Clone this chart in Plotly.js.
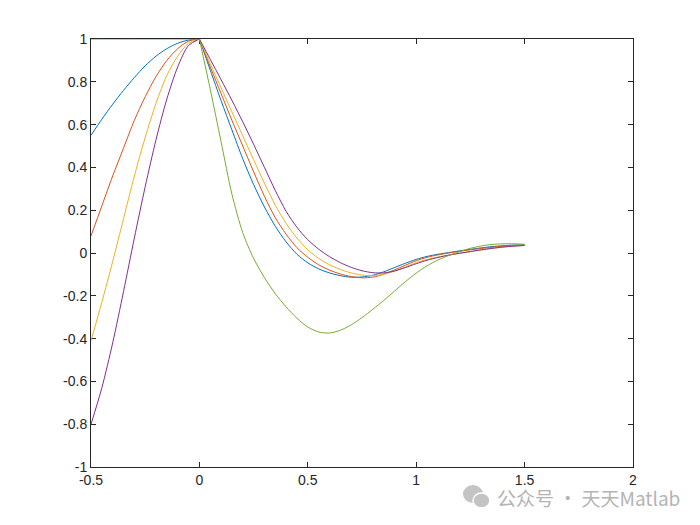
<!DOCTYPE html>
<html>
<head>
<meta charset="utf-8">
<script src="https://cdn.plot.ly/plotly-3.0.1.min.js"></script>
<style>html,body{margin:0;padding:0;background:#fff;}#chart{width:700px;height:525px;}</style>
</head>
<body>
<div id="chart"></div>
<script>
// sample positions (x)
const xs = [-0.5,-0.45,-0.4,-0.35,-0.3,-0.25,-0.2,-0.15,-0.1,-0.05,0,
  0.05,0.1,0.15,0.2,0.25,0.3,0.35,0.4,0.45,0.5,0.55,0.6,0.65,0.7,0.75,0.8,0.85,0.9,0.95,1.0,
  1.05,1.1,1.15,1.2,1.25,1.3,1.35,1.4,1.45,1.5];

// series values
const blueY = [0.55,0.625,0.695,0.76,0.82,0.875,0.92,0.955,0.98,0.995,1,
  0.855,0.712,0.575,0.44,0.32,0.215,0.125,0.052,-0.006,-0.046,-0.074,-0.093,-0.106,-0.113,-0.112,-0.104,-0.088,-0.068,-0.048,-0.030,
  -0.016,-0.006,0.002,0.010,0.017,0.024,0.030,0.034,0.037,0.038];
const orangeY = [0.08,0.22,0.36,0.49,0.62,0.73,0.825,0.90,0.955,0.99,1,
  0.87,0.745,0.62,0.50,0.38,0.265,0.165,0.088,0.025,-0.02,-0.055,-0.08,-0.098,-0.110,-0.116,-0.113,-0.099,-0.079,-0.057,-0.036,
  -0.020,-0.009,0.000,0.008,0.015,0.021,0.027,0.032,0.035,0.037];
const yellowY = [-0.41,-0.23,-0.04,0.16,0.36,0.54,0.70,0.83,0.92,0.98,1,
  0.885,0.772,0.66,0.548,0.436,0.326,0.224,0.138,0.07,0.015,-0.025,-0.055,-0.077,-0.093,-0.103,-0.106,-0.099,-0.085,-0.065,-0.045,
  -0.030,-0.019,-0.010,-0.002,0.006,0.014,0.021,0.027,0.032,0.036];
const purpleY = [-0.80,-0.63,-0.42,-0.18,0.07,0.31,0.53,0.72,0.87,0.97,1,
  0.905,0.81,0.713,0.613,0.508,0.40,0.292,0.195,0.12,0.062,0.018,-0.017,-0.045,-0.067,-0.083,-0.092,-0.093,-0.084,-0.068,-0.050,
  -0.034,-0.021,-0.010,-0.001,0.007,0.015,0.022,0.028,0.032,0.035];
const greenY = [1,1,1,1,1,1,1,1,1,1,1,
  0.765,0.52,0.275,0.095,-0.025,-0.115,-0.19,-0.252,-0.305,-0.346,-0.369,-0.374,-0.361,-0.336,-0.302,-0.263,-0.222,-0.178,-0.134,-0.094,
  -0.060,-0.033,-0.012,0.006,0.022,0.033,0.040,0.043,0.043,0.041];

const xTickVals = [-0.5,0,0.5,1,1.5,2];
const xTickText = ['-0.5','0','0.5','1','1.5','2'];
const yTickVals = [-1,-0.8,-0.6,-0.4,-0.2,0,0.2,0.4,0.6,0.8,1];
const yTickText = ['-1','-0.8','-0.6','-0.4','-0.2','0','0.2','0.4','0.6','0.8','1'];

const series = [
  {y: blueY, c: '#0072BD'},
  {y: orangeY, c: '#D95319'},
  {y: yellowY, c: '#EDB120'},
  {y: purpleY, c: '#7E2F8E'},
  {y: greenY, c: '#77AC30'}
];
// index of x = 0 (the corner every curve shares)
const k0 = xs.indexOf(0);
const traces = [];
series.forEach(s => {
  [[0, k0 + 1], [k0, xs.length]].forEach(([a, b]) => {
    traces.push({
      x: xs.slice(a, b), y: s.y.slice(a, b), type: 'scatter', mode: 'lines',
      line: {color: s.c, width: 1, shape: 'spline', smoothing: 0.8}, hoverinfo: 'skip'
    });
  });
});

const axisCommon = {
  showgrid: false, zeroline: false, showline: true, mirror: 'ticks',
  linecolor: '#262626', linewidth: 1, ticks: 'inside', ticklen: 5,
  tickcolor: '#262626', tickwidth: 1, layer: 'below traces',
  tickfont: {family: 'Liberation Sans, Arial, sans-serif', size: 14, color: '#262626'},
  tickmode: 'array'
};

// helpers to place the watermark in pixel terms
const PL = 91, PR = 633, PT = 39, PB = 467;
const px = v => (v - PL) / (PR - PL);
const py = v => (PB - v) / (PB - PT);

const layout = {
  width: 700, height: 525,
  margin: {l: 91, r: 67, t: 39, b: 58},
  paper_bgcolor: '#fff', plot_bgcolor: '#fff',
  showlegend: false,
  xaxis: Object.assign({}, axisCommon, {range: [-0.5, 2], tickvals: xTickVals, ticktext: xTickText}),
  yaxis: Object.assign({}, axisCommon, {range: [-1, 1], tickvals: yTickVals, ticktext: yTickText}),
  shapes: [
    {type: 'circle', xref: 'paper', yref: 'paper', x0: px(463), x1: px(483), y0: py(503), y1: py(485),
     fillcolor: '#c4c4c4', line: {width: 0}, layer: 'above'},
    {type: 'circle', xref: 'paper', yref: 'paper', x0: px(473), x1: px(490), y0: py(508), y1: py(493),
     fillcolor: '#c4c4c4', line: {color: '#ffffff', width: 1.5}, layer: 'above'}
  ],
  annotations: [
    {xref: 'paper', yref: 'paper', x: px(495), y: py(497), xanchor: 'left', yanchor: 'middle',
     text: '公众号 · 天天Matlab', showarrow: false,
     font: {family: 'Noto Sans CJK SC, sans-serif', size: 19, color: '#b4b4b4'}}
  ]
};

Plotly.newPlot('chart', traces, layout, {displayModeBar: false, staticPlot: true});
</script>
</body>
</html>
